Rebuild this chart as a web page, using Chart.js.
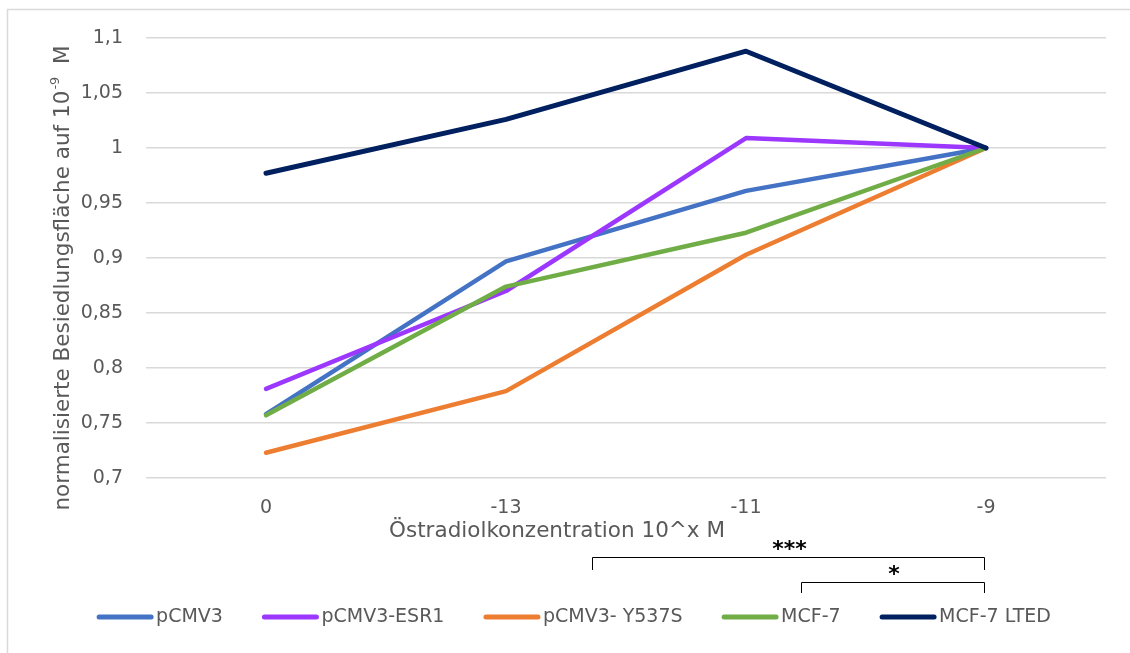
<!DOCTYPE html>
<html>
<head>
<meta charset="utf-8">
<script src="https://cdn.jsdelivr.net/npm/chart.js@4/dist/chart.umd.min.js"></script>
<style>
  html, body { margin: 0; padding: 0; background: #fff; }
  #wrap { width: 1130px; height: 653px; position: relative; }
</style>
</head>
<body>
<div id="wrap"><canvas id="c" width="1130" height="653"></canvas></div>
<script>
// Estradiol concentration (10^x M) on the category axis
const categories = ['0', '-13', '-11', '-9'];

// Colonised area, normalised to 10^-9 M
const pCMV3       = [0.758, 0.897, 0.961, 1.000];
const pCMV3_ESR1  = [0.781, 0.870, 1.009, 1.000];
const pCMV3_Y537S = [0.723, 0.779, 0.903, 1.000];
const MCF7        = [0.757, 0.874, 0.923, 1.000];
const MCF7_LTED   = [0.977, 1.026, 1.088, 1.000];

const seriesNames = ['pCMV3', 'pCMV3-ESR1', 'pCMV3- Y537S', 'MCF-7', 'MCF-7 LTED'];
const seriesValues = [pCMV3, pCMV3_ESR1, pCMV3_Y537S, MCF7, MCF7_LTED];
const seriesColors = ['#4472C4', '#9B37FF', '#ED7D31', '#70AD47', '#002060'];

const yTicks = [0.7, 0.75, 0.8, 0.85, 0.9, 0.95, 1, 1.05, 1.1];

// Significance brackets: span in category units, label
const brackets = [
  { from: 1.36, to: 3, label: '***', lineY: 557, dropY: 570, textY: 547 },
  { from: 2.23, to: 3, label: '*',   lineY: 582, dropY: 593, textY: 572 }
];

const FONT = '"DejaVu Sans", "Liberation Sans", sans-serif';
const TEXT = '#595959';
const TICK_SIZE = 19;
const TITLE_SIZE = 21.5;

function fmt(v) {
  return String(Math.round(v * 100) / 100).replace('.', ',');
}

const decor = {
  id: 'decor',
  beforeDraw(chart) {
    const ctx = chart.ctx;
    ctx.save();
    ctx.strokeStyle = '#D9D9D9';
    ctx.lineWidth = 1.5;
    ctx.beginPath();
    ctx.moveTo(7.5, 653);
    ctx.lineTo(7.5, 9.5);
    ctx.lineTo(1130, 9.5);
    ctx.stroke();
    ctx.restore();
  },
  afterDraw(chart) {
    const ctx = chart.ctx;
    const xs = chart.scales.x;
    ctx.save();

    // y axis title with superscript exponent
    const main = 'normalisierte Besiedlungsfläche auf 10';
    const sup = '-9';
    const tail = '  M';
    const bigFont = TITLE_SIZE + 'px ' + FONT;
    const supFont = '13px ' + FONT;
    ctx.fillStyle = TEXT;
    ctx.font = bigFont;
    const wMain = ctx.measureText(main).width;
    const wTail = ctx.measureText(tail).width;
    ctx.font = supFont;
    const wSup = ctx.measureText(sup).width;
    const total = wMain + wSup + wTail;
    ctx.translate(63, 278);
    ctx.rotate(-Math.PI / 2);
    ctx.textBaseline = 'middle';
    ctx.textAlign = 'left';
    const x0 = -total / 2;
    ctx.font = bigFont;
    ctx.fillText(main, x0, 0);
    ctx.font = supFont;
    ctx.fillText(sup, x0 + wMain + 1, -7);
    ctx.font = bigFont;
    ctx.fillText(tail, x0 + wMain + wSup, 0);
    ctx.setTransform(1, 0, 0, 1, 0, 0);

    // x axis title
    ctx.font = bigFont;
    ctx.textAlign = 'center';
    ctx.textBaseline = 'middle';
    ctx.fillStyle = TEXT;
    ctx.fillText('Östradiolkonzentration 10^x M', 557, 531);

    // significance brackets
    ctx.strokeStyle = '#000';
    ctx.fillStyle = '#000';
    ctx.lineWidth = 1;
    brackets.forEach(b => {
      const a = Math.round(xs.getPixelForValue(b.from)) + 0.5;
      const c = Math.round(xs.getPixelForValue(b.to)) - 1.5;
      ctx.beginPath();
      ctx.moveTo(a, b.dropY);
      ctx.lineTo(a, b.lineY + 0.5);
      ctx.lineTo(c, b.lineY + 0.5);
      ctx.lineTo(c, b.dropY);
      ctx.stroke();
      ctx.font = 'bold 22px ' + FONT;
      ctx.fillText(b.label, (a + c) / 2 + 1, b.textY + 3);
    });

    // legend
    ctx.font = TICK_SIZE + 'px ' + FONT;
    ctx.textAlign = 'left';
    ctx.textBaseline = 'middle';
    const ly = 617;
    const lineLen = 56;
    const gapText = 3;
    const gapItem = 39.5;
    const widths = chart.data.datasets.map(d => lineLen + gapText + ctx.measureText(d.label).width);
    const totalW = widths.reduce((s, w) => s + w, 0) + gapItem * (widths.length - 1);
    let lx = 574 - totalW / 2;
    chart.data.datasets.forEach((d, i) => {
      ctx.strokeStyle = d.borderColor;
      ctx.lineWidth = 5;
      ctx.lineCap = 'round';
      ctx.beginPath();
      ctx.moveTo(lx + 2, ly);
      ctx.lineTo(lx + lineLen - 2, ly);
      ctx.stroke();
      ctx.fillStyle = TEXT;
      ctx.fillText(d.label, lx + lineLen + gapText, ly);
      lx += widths[i] + gapItem;
    });
    ctx.restore();
  }
};

new Chart(document.getElementById('c'), {
  type: 'line',
  data: {
    labels: categories,
    datasets: seriesValues.map((vals, i) => ({
      label: seriesNames[i],
      data: vals,
      borderColor: seriesColors[i],
      backgroundColor: seriesColors[i],
      borderWidth: i === 4 ? 5 : 4.5,
      pointRadius: 0,
      pointHoverRadius: 0,
      tension: 0,
      borderCapStyle: 'round',
      borderJoinStyle: 'round',
      fill: false,
      order: seriesValues.length - i
    }))
  },
  options: {
    responsive: false,
    animation: false,
    events: [],
    layout: { padding: { top: 38, right: 24, bottom: 0, left: 0 } },
    plugins: { legend: { display: false }, tooltip: { enabled: false } },
    scales: {
      x: {
        offset: true,
        grid: { display: false, drawTicks: false },
        border: { display: false },
        ticks: { color: TEXT, font: { family: FONT, size: TICK_SIZE }, padding: 19, maxRotation: 0 },
        afterFit(s) { s.height = 653 - 478; }
      },
      y: {
        min: 0.7,
        max: 1.1,
        afterBuildTicks(s) { s.ticks = yTicks.map(v => ({ value: v })); },
        grid: { color: '#D9D9D9', lineWidth: 1.5, drawTicks: false },
        border: { display: false },
        ticks: {
          color: TEXT,
          font: { family: FONT, size: TICK_SIZE },
          padding: 23,
          callback: v => fmt(v)
        },
        afterFit(s) { s.width = 146; }
      }
    }
  },
  plugins: [decor]
});
</script>
</body>
</html>
